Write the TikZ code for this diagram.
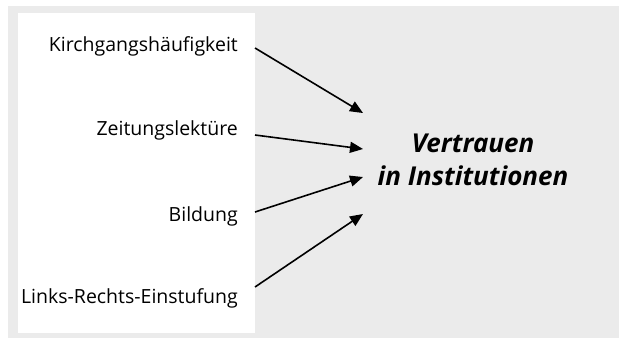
\documentclass[tikz,border=0pt]{standalone}
\usepackage{fontspec}
\setmainfont{Open Sans}
\usetikzlibrary{arrows.meta}
\definecolor{panel}{RGB}{235,235,235}
\begin{document}
\begin{tikzpicture}[x=1pt,y=-1pt,
  factor/.style={anchor=base east,inner sep=0pt,font=\fontsize{19.5}{23}\selectfont},
  link/.style={line width=1.6pt,-{Triangle[length=13pt,width=11pt]}},
  outcome/.style={align=center,inner sep=0pt,font=\fontsize{26}{33}\selectfont\bfseries\itshape}]
  \useasboundingbox (0,0) rectangle (619,338);
  % backgrounds
  \fill[white] (0,0) rectangle (619,338);
  \fill[panel] (8,6) rectangle (619,338);
  \fill[white] (18,13) rectangle (255,333);
  % explanatory variables
  \node[factor] (kirch) at (238,51) {Kirchgangshäufigkeit};
  \node[factor] (zeit)  at (238,135) {Zeitungslektüre};
  \node[factor] (bild)  at (238,221) {Bildung};
  \node[factor] (lr)    at (238,303) {Links-Rechts-Einstufung};
  % dependent variable
  \node[outcome] (vert) at (473,160) {Vertrauen\\in Institutionen};
  % line ends
  \coordinate (s1) at (255,48);
  \coordinate (s2) at (255,135);
  \coordinate (s3) at (255,212);
  \coordinate (s4) at (255,287);
  \coordinate (t1) at (363,113);
  \coordinate (t2) at (363,149);
  \coordinate (t3) at (363,177);
  \coordinate (t4) at (363,214);
  \draw[link] (s1) -- (t1);
  \draw[link] (s2) -- (t2);
  \draw[link] (s3) -- (t3);
  \draw[link] (s4) -- (t4);
\end{tikzpicture}
\end{document}
